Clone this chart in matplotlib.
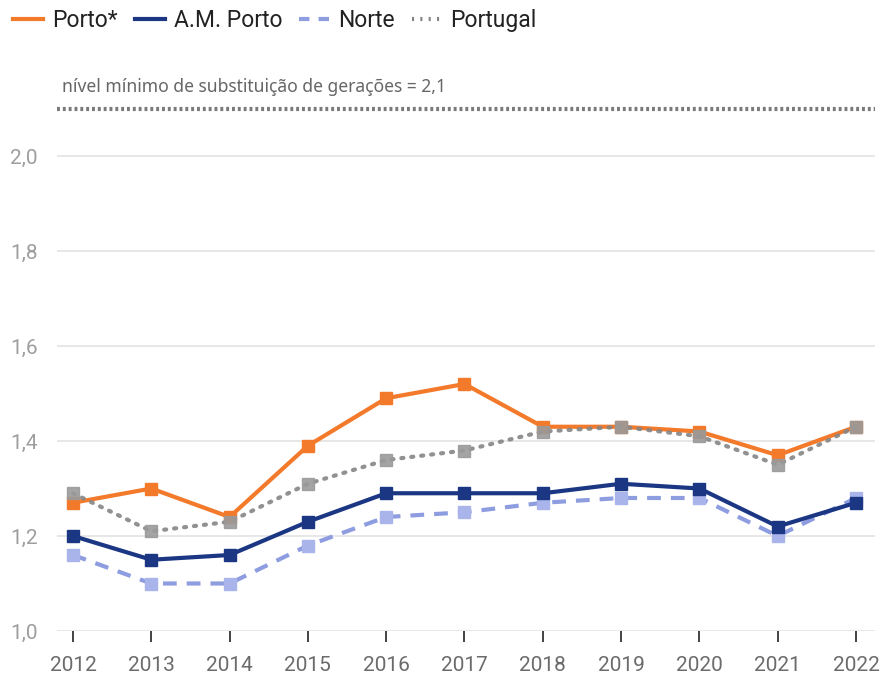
import matplotlib
matplotlib.use("Agg")
import matplotlib.pyplot as plt
from matplotlib.lines import Line2D

years = [2012, 2013, 2014, 2015, 2016, 2017, 2018, 2019, 2020, 2021, 2022]
porto = [1.27, 1.30, 1.24, 1.39, 1.49, 1.52, 1.43, 1.43, 1.42, 1.37, 1.43]
am_porto = [1.20, 1.15, 1.16, 1.23, 1.29, 1.29, 1.29, 1.31, 1.30, 1.22, 1.27]
norte = [1.16, 1.10, 1.10, 1.18, 1.24, 1.25, 1.27, 1.28, 1.28, 1.20, 1.28]
portugal = [1.29, 1.21, 1.23, 1.31, 1.36, 1.38, 1.42, 1.43, 1.41, 1.35, 1.43]
series_names = ["Porto*", "A.M. Porto", "Norte", "Portugal"]
yticks = [1.0, 1.2, 1.4, 1.6, 1.8, 2.0]
ytick_labels = ["1,0", "1,2", "1,4", "1,6", "1,8", "2,0"]
replacement_level = 2.1
annotation = "nível mínimo de substituição de gerações = 2,1"

plt.rcParams['font.family'] = ['Roboto', 'DejaVu Sans']

fig = plt.figure(figsize=(8.85, 6.78), dpi=100)
ax = fig.add_axes([57/885, 47/678, (875-57)/885, (631-108.5)/678])

c_porto = "#f47a2b"
c_am = "#1b3784"
c_norte = "#8e9de0"
c_norte_m = "#a9b5ea"
c_pt = "#858585"
c_pt_m = "#9a9a9a"

ax.plot(years, norte, color=c_norte, lw=3, ls=(0, (3.3, 2.4)), marker='s', ms=8,
        mfc=c_norte_m, mec=c_norte_m, zorder=3)
ax.plot(years, am_porto, color=c_am, lw=3, marker='s', ms=8,
        mfc=c_am, mec=c_am, zorder=4)
ax.plot(years, porto, color=c_porto, lw=3, marker='s', ms=8,
        mfc=c_porto, mec=c_porto, zorder=5)
ax.plot(years, portugal, color=c_pt, lw=3, ls=(0, (0.5, 1.9)), dash_capstyle='round',
        marker='s', ms=8, mfc=c_pt_m, mec=c_pt_m, zorder=6, alpha=0.9)

ax.axhline(replacement_level, color="#7a7a7a", lw=3, ls=(0, (0.7, 0.7)), clip_on=False, zorder=2)
ax.text(62/885, 1 - 87/678, annotation, transform=fig.transFigure, fontsize=12.6,
        color="#666666", va='center', ha='left', family=['Noto Sans', 'DejaVu Sans'])

ax.set_xlim(2012 - 16/78.3, 2022 + 19/78.3)
ax.set_ylim(1.0, replacement_level)
ax.set_yticks(yticks)
ax.set_yticklabels(ytick_labels)
ax.set_xticks(years)
ax.set_xticklabels([str(y) for y in years])
ax.grid(axis='y', color="#e3e3e3", lw=1.2, zorder=0)
ax.set_axisbelow(True)
for s in ax.spines.values():
    s.set_visible(False)
ax.tick_params(axis='y', length=0, pad=14, labelsize=15, labelcolor="#9e9e9e")
ax.tick_params(axis='x', length=8, width=1.2, color="#222222", pad=10,
               labelsize=15, labelcolor="#6b6b6b")

handles = [
    Line2D([], [], color=c_porto, lw=3),
    Line2D([], [], color=c_am, lw=3),
    Line2D([], [], color=c_norte, lw=3, ls=(0, (2.5, 2.2))),
    Line2D([], [], color=c_pt, lw=3, ls=(0, (0.5, 1.5))),
]
fig.legend(handles, series_names, loc='upper left', bbox_to_anchor=(13/885, 1 - 9/678),
           ncol=4, frameon=False, fontsize=16.5, handlelength=1.31, handletextpad=0.39,
           columnspacing=0.74, labelcolor="#222222", borderpad=0, borderaxespad=0)

fig.savefig("out.png", dpi=100)
